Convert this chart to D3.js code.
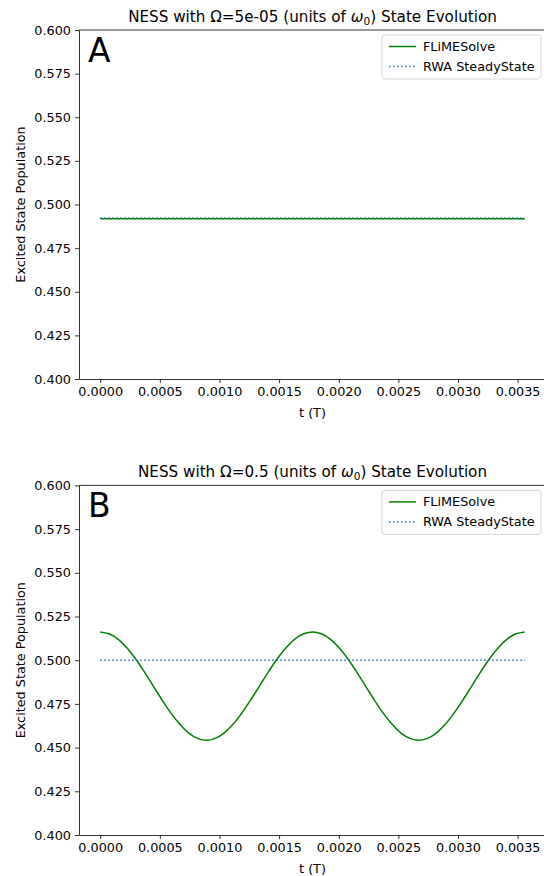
<!DOCTYPE html>
<html><head><meta charset="utf-8">
<script src="https://cdn.jsdelivr.net/npm/d3@7"></script>
<style>body{margin:0;background:#fff} text{font-family:"DejaVu Sans",sans-serif}</style>
</head><body><svg id="c" width="544" height="876"></svg>
<script>
// ---- data ----
const timesA = [0, 0.00356];
const flimeA = [0.4918, 0.4918];
const rwaA = [0.4922, 0.4922];

const timesB = [0, 0.000074, 0.000148, 0.000223, 0.000297, 0.000371, 0.000445, 0.000519, 0.000593, 0.000668,
  0.000742, 0.000816, 0.000890, 0.000964, 0.001038, 0.001113, 0.001187, 0.001261, 0.001335, 0.001409,
  0.001483, 0.001558, 0.001632, 0.001706, 0.001780, 0.001854, 0.001928, 0.002003, 0.002077, 0.002151,
  0.002225, 0.002299, 0.002373, 0.002448, 0.002522, 0.002596, 0.002670, 0.002744, 0.002818, 0.002893,
  0.002967, 0.003041, 0.003115, 0.003189, 0.003263, 0.003338, 0.003412, 0.003486, 0.003560];
const flimeB = [0.5162, 0.5151, 0.5121, 0.5071, 0.5007, 0.4932, 0.4852, 0.4772, 0.4697, 0.4633,
  0.4583, 0.4553, 0.4542, 0.4553, 0.4583, 0.4633, 0.4697, 0.4772, 0.4852, 0.4932,
  0.5007, 0.5071, 0.5121, 0.5151, 0.5162, 0.5151, 0.5121, 0.5071, 0.5007, 0.4932,
  0.4852, 0.4772, 0.4697, 0.4633, 0.4583, 0.4553, 0.4542, 0.4553, 0.4583, 0.4633,
  0.4697, 0.4772, 0.4852, 0.4932, 0.5007, 0.5071, 0.5121, 0.5151, 0.5162];
const rwaB = [0.5000, 0.5000];
const rwaBTimes = [0, 0.00356];

const xTicks = [0, 0.0005, 0.0010, 0.0015, 0.0020, 0.0025, 0.0030, 0.0035];
const yTicks = [0.400, 0.425, 0.450, 0.475, 0.500, 0.525, 0.550, 0.575, 0.600];
const seriesNames = ["FLiMESolve", "RWA SteadyState"];
const titlesOmega = ["5e-05", "0.5"];
const letters = ["A", "B"];

// ---- layout ----
const svg = d3.select("#c");
const left = 79, right = 546;
const fs = 12.8;
const panels = [
  {top: 30, bottom: 379, tf: timesA, fv: flimeA, tr: timesA, rv: rwaA},
  {top: 485.4, bottom: 835, tf: timesB, fv: flimeB, tr: rwaBTimes, rv: rwaB}
];
const green = "#008000", blue = "#1f77b4";

panels.forEach((p, i) => {
  const tmax = d3.max(p.tf);
  const x = d3.scaleLinear().domain([-0.05 * tmax, 1.05 * tmax]).range([left, right]);
  const y = d3.scaleLinear().domain([0.4, 0.6]).range([p.bottom, p.top]);
  const g = svg.append("g");

  const clipId = "clip" + i;
  g.append("clipPath").attr("id", clipId).append("rect")
    .attr("x", left).attr("y", p.top).attr("width", right - left).attr("height", p.bottom - p.top);

  const line = d3.line().x((d) => x(d[0])).y((d) => y(d[1])).curve(d3.curveCatmullRom);
  g.append("path").datum(d3.zip(p.tf, p.fv)).attr("d", line)
    .attr("fill", "none").attr("stroke", green).attr("stroke-width", 1.5).attr("clip-path", `url(#${clipId})`);
  g.append("path").datum(d3.zip(p.tr, p.rv)).attr("d", line)
    .attr("fill", "none").attr("stroke", blue).attr("stroke-width", 1.5)
    .attr("stroke-dasharray", "1.5,2.5").attr("clip-path", `url(#${clipId})`);

  // axes
  const xa = g.append("g").attr("transform", `translate(0,${p.bottom})`)
    .call(d3.axisBottom(x).tickValues(xTicks).tickFormat(d3.format(".4f")).tickSize(4).tickSizeOuter(0).tickPadding(4));
  const ya = g.append("g").attr("transform", `translate(${left},0)`)
    .call(d3.axisLeft(y).tickValues(yTicks).tickFormat(d3.format(".3f")).tickSize(4).tickSizeOuter(0).tickPadding(4));
  [xa, ya].forEach(a => {
    a.selectAll("path,line").attr("stroke", "#000").attr("stroke-width", 0.8);
    a.selectAll("text").attr("font-size", fs).attr("fill", "#000").attr("font-family", "DejaVu Sans");
  });
  g.append("line").attr("x1", left).attr("x2", right).attr("y1", p.top).attr("y2", p.top)
    .attr("stroke", "#000").attr("stroke-width", 0.8);
  g.append("line").attr("x1", right).attr("x2", right).attr("y1", p.top).attr("y2", p.bottom)
    .attr("stroke", "#000").attr("stroke-width", 0.8);

  // labels
  g.append("text").attr("x", (left + right) / 2).attr("y", p.bottom + 38)
    .attr("text-anchor", "middle").attr("font-size", fs).text("t (T)");
  g.append("text").attr("transform", `translate(25,${(p.top + p.bottom) / 2}) rotate(-90)`)
    .attr("text-anchor", "middle").attr("font-size", fs).text("Excited State Population");

  // title
  const t = g.append("text").attr("x", (left + right) / 2).attr("y", p.top - 8.5)
    .attr("text-anchor", "middle").attr("font-size", 15.2);
  t.append("tspan").text(`NESS with Ω=${titlesOmega[i]} (units of `);
  t.append("tspan").attr("font-style", "italic").text("ω");
  t.append("tspan").attr("font-size", 10.6).attr("dy", 3).text("0");
  t.append("tspan").attr("dy", -3).text(") State Evolution");

  // letter
  g.append("text").attr("x", left + 9).attr("y", p.top + 32).attr("font-size", 33).text(letters[i]);

  // legend
  const lw = 159, lh = 44;
  const lx = right - 5 - lw, ly = p.top + 5;
  const lg = g.append("g").attr("transform", `translate(${lx},${ly})`);
  lg.append("rect").attr("width", lw).attr("height", lh).attr("rx", 3)
    .attr("fill", "#fff").attr("fill-opacity", 0.8).attr("stroke", "#d5d5d5").attr("stroke-width", 1);
  seriesNames.forEach((n, k) => {
    const yy = 11.5 + k * 20;
    lg.append("line").attr("x1", 7).attr("x2", 34).attr("y1", yy).attr("y2", yy)
      .attr("stroke", k === 0 ? green : blue).attr("stroke-width", 1.5)
      .attr("stroke-dasharray", k === 0 ? null : "1.5,2.5");
    lg.append("text").attr("x", 41).attr("y", yy + 4.5).attr("font-size", fs).text(n);
  });
});
</script></body></html>
